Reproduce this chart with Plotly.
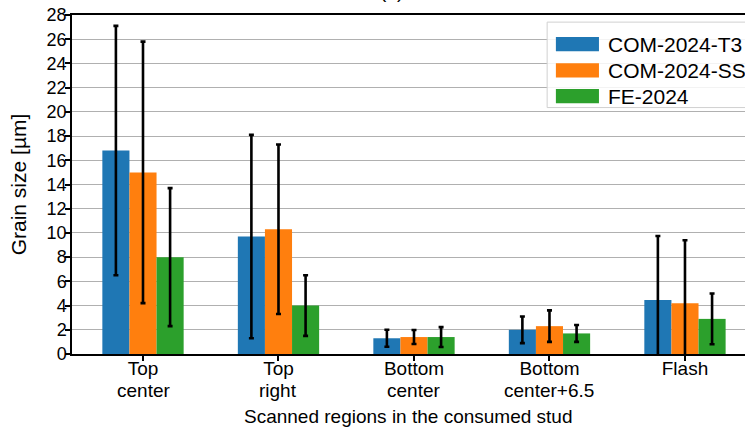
import plotly.graph_objects as go

# Scanned regions (two-line labels) and mean grain size (µm) with standard deviation
region_line1 = ["Top", "Top", "Bottom", "Bottom", "Flash"]
region_line2 = ["center", "right", "center", "center+6.5", ""]

t3_mean = [16.8, 9.7, 1.3, 2.0, 4.45]
t3_std = [10.3, 8.4, 0.7, 1.1, 5.3]

ss_mean = [15.0, 10.3, 1.4, 2.3, 4.2]
ss_std = [10.8, 7.0, 0.58, 1.3, 5.2]

fe_mean = [8.0, 4.0, 1.4, 1.7, 2.9]
fe_std = [5.7, 2.5, 0.82, 0.7, 2.1]

series_names = ["COM-2024-T3", "COM-2024-SS", "FE-2024"]
series_colors = ["#1f77b4", "#ff7f0e", "#2ca02c"]

y_ticks = list(range(0, 29, 2))

FONT = "Liberation Sans, Arial, sans-serif"
positions = list(range(len(region_line1)))

fig = go.Figure()
for name, color, means, stds in zip(series_names, series_colors,
                                    [t3_mean, ss_mean, fe_mean],
                                    [t3_std, ss_std, fe_std]):
    fig.add_trace(go.Bar(
        x=positions,
        y=means,
        name=name,
        marker=dict(color=color, line=dict(width=0)),
        error_y=dict(type="data", array=stds, visible=True,
                     color="black", thickness=2.6, width=2.5),
        showlegend=False,
    ))

# Second line of the category labels, set tighter than <br> spacing
for pos, txt in zip(positions, region_line2):
    if txt:
        fig.add_annotation(xref="x", yref="paper", x=pos, y=-0.107,
                           xanchor="center", yanchor="middle", showarrow=False,
                           text=txt, font=dict(family=FONT, size=19, color="black"))

# Legend box with wide colour swatches
fig.add_shape(type="rect", xref="paper", yref="paper",
              x0=0.706, x1=1.02, y0=0.727, y1=0.979,
              line=dict(color="#d0d0d0", width=1), fillcolor="rgba(255,255,255,0.85)",
              layer="above")
swatch_rows = [0.914, 0.837, 0.761]
for name, color, yc in zip(series_names, series_colors, swatch_rows):
    fig.add_shape(type="rect", xref="paper", yref="paper",
                  x0=0.719, x1=0.783, y0=yc - 0.021, y1=yc + 0.021,
                  line=dict(width=0), fillcolor=color, layer="above")
    fig.add_annotation(xref="paper", yref="paper", x=0.794, y=yc,
                       xanchor="left", yanchor="middle", showarrow=False,
                       text=name, font=dict(family=FONT, size=21, color="black"))

# Panel label sitting above the plot frame
fig.add_annotation(xref="paper", yref="paper", x=0.475, y=1.033,
                   xanchor="center", yanchor="bottom", showarrow=False,
                   text="(a)", font=dict(family=FONT, size=19, color="black"))

# x-axis title
fig.add_annotation(xref="paper", yref="paper", x=0.5, y=-0.183,
                   xanchor="center", yanchor="middle", showarrow=False,
                   text="Scanned regions in the consumed stud",
                   font=dict(family=FONT, size=19, color="black"))

fig.update_layout(
    width=745, height=430,
    margin=dict(l=72, r=0, t=15, b=76),
    plot_bgcolor="white", paper_bgcolor="white",
    barmode="group", bargap=0.4, bargroupgap=0,
    font=dict(family=FONT, size=19, color="black"),
)
fig.update_xaxes(
    range=[-0.524, 4.443],
    tickmode="array", tickvals=positions, ticktext=region_line1,
    ticks="outside", ticklen=5, tickwidth=1.5, tickcolor="black",
    showline=True, linecolor="black", linewidth=1.5, mirror=True,
    showgrid=False, zeroline=False,
    tickfont=dict(size=19), ticklabelstandoff=-9,
)
fig.update_yaxes(
    range=[0, 28],
    tickmode="array", tickvals=y_ticks,
    ticks="outside", ticklen=5, tickwidth=1.5, tickcolor="black",
    showline=True, linecolor="black", linewidth=1.5,
    showgrid=True, gridcolor="#b0b0b0", gridwidth=1.2,
    zeroline=False,
    tickfont=dict(size=18), ticklabelstandoff=-5,
    title=dict(text="Grain size [µm]", font=dict(size=21), standoff=14),
)

fig.write_html("out.html")
